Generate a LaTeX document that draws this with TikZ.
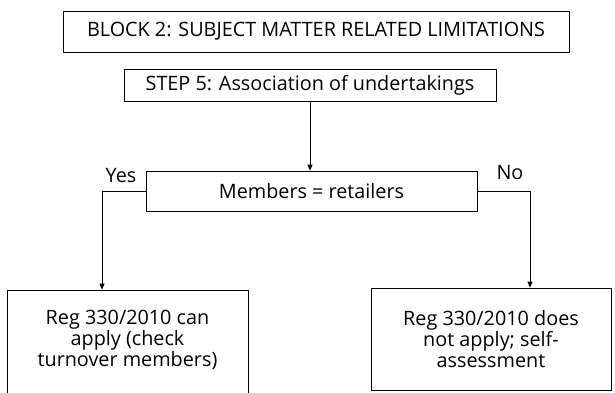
\documentclass[tikz,border=0pt]{standalone}
\usepackage{fontspec}
\setmainfont{Open Sans}
\usetikzlibrary{arrows.meta}
\begin{document}
\begin{tikzpicture}[x=1pt,y=-1pt,
  box/.style={draw, line width=0.8pt, inner sep=0pt},
  txt/.style={font=\fontsize{19.8}{21}\selectfont, inner sep=0pt, align=center},
  link/.style={line width=0.8pt},
  arr/.style={link, -{Triangle[length=6pt,width=5pt]}}]
\useasboundingbox (0,0) rectangle (615,392);
\clip (0,0) rectangle (615,392);
% header and step boxes
\node[box, txt, minimum width=506pt, minimum height=41pt] (block) at (316,31.5)
  {BLOCK 2: SUBJECT MATTER RELATED LIMITATIONS};
\node[box, txt, minimum width=372pt, minimum height=32pt] (step) at (310,85)
  {STEP 5: Association of undertakings};
% decision box
\node[box, txt, minimum width=331pt, minimum height=40pt] (members) at (311.5,191)
  {Members = retailers};
% outcome boxes (left one runs past the lower edge)
\node[box, minimum width=241pt, minimum height=110pt] (left) at (127.5,345) {};
\node[box, minimum width=240pt, minimum height=102pt] (right) at (491,339) {};
\node[txt] (lefttext) at (127.5,340) {Reg 330/2010 can\\apply (check\\turnover members)};
\node[txt] (righttext) at (491,339) {Reg 330/2010 does\\not apply; self-\\assessment};
% branch corners and labels
\coordinate (ycorner) at (102,191);
\coordinate (ncorner) at (530,191);
\node[txt] (yes) at (121,176) {Yes};
\node[txt] (no) at (510,173) {No};
% connectors
\draw[arr] (step.south) -- (step.south |- members.north);
\draw[arr] (members.west) -- (ycorner) -- (ycorner |- left.north);
\draw[arr] (members.east) -- (ncorner) -- (ncorner |- right.north);
\end{tikzpicture}
\end{document}
